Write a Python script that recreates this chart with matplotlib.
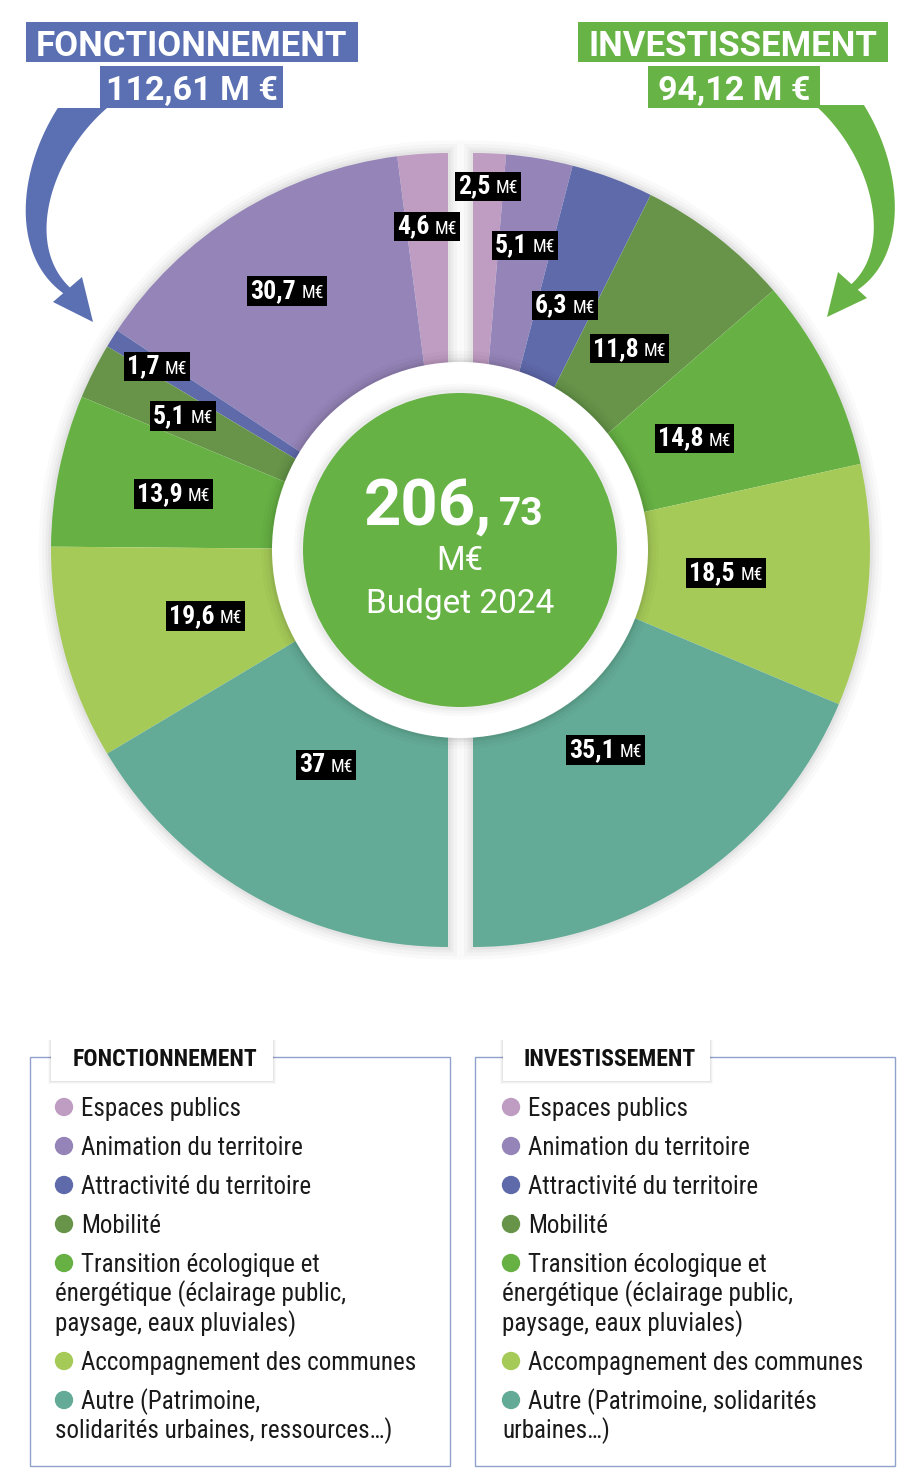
import numpy as np
import matplotlib
matplotlib.use("Agg")
import matplotlib.pyplot as plt
from matplotlib.patches import Rectangle, Circle, Polygon, Wedge
from matplotlib.offsetbox import TextArea, HPacker, AnnotationBbox

# ---------------- data ----------------
categories = ["Espaces publics", "Animation du territoire", "Attractivité du territoire",
              "Mobilité", "Transition écologique et énergétique",
              "Accompagnement des communes", "Autre"]
fonct_values = [4.6, 30.7, 1.7, 5.1, 13.9, 19.6, 37.0]
invest_values = [2.5, 5.1, 6.3, 11.8, 14.8, 18.5, 35.1]
fonct_total = "112,61 M €"
invest_total = "94,12 M €"
budget_int = "206,"
budget_dec = "73"
budget_year = "Budget 2024"
fonct_legend = [["Espaces publics"], ["Animation du territoire"], ["Attractivité du territoire"],
                ["Mobilité"], ["Transition écologique et", "énergétique (éclairage public,", "paysage, eaux pluviales)"],
                ["Accompagnement des communes"], ["Autre (Patrimoine,", "solidarités urbaines, ressources…)"]]
invest_legend = [["Espaces publics"], ["Animation du territoire"], ["Attractivité du territoire"],
                 ["Mobilité"], ["Transition écologique et", "énergétique (éclairage public,", "paysage, eaux pluviales)"],
                 ["Accompagnement des communes"], ["Autre (Patrimoine, solidarités", "urbaines…)"]]

# ---------------- style ----------------
colors = ["#bf9cc2", "#9484b8", "#5f6aab", "#679449", "#67b144", "#a6ca57", "#63ab96"]
BLUE = "#5a70b3"
GREEN = "#68b345"
CENTER_GREEN = "#66b245"
COND = "Roboto Condensed"
REG = "Roboto"

W, H = 900, 1481
fig = plt.figure(figsize=(W / 100, H / 100), dpi=100)
ax = fig.add_axes([0, 0, 1, 1])


def Y(y):
    return H - y


def fmt(v):
    s = ("%.1f" % v).replace(".", ",")
    return s[:-2] if s.endswith(",0") else s


CY = 550
R = 397
CXL, CXR = 448, 473

# shadows behind the halves
for lw, a in [(18, 0.02), (13, 0.025), (8, 0.03), (4, 0.035)]:
    ax.add_patch(Wedge((CXL, Y(CY)), R, 90, 270, facecolor="none",
                       edgecolor="black", alpha=a, lw=lw, zorder=0.5))
    ax.add_patch(Wedge((CXR, Y(CY)), R, -90, 90, facecolor="none",
                       edgecolor="black", alpha=a, lw=lw, zorder=0.5))

# pies: each half = 180 degrees
fl = [v / (2 * sum(fonct_values)) for v in fonct_values]
fr = [v / (2 * sum(invest_values)) for v in invest_values]
wl, _ = ax.pie(fl, colors=colors, startangle=90, counterclock=True, radius=R,
               center=(CXL, Y(CY)), normalize=False, wedgeprops=dict(linewidth=0))
wr, _ = ax.pie(fr, colors=colors, startangle=90, counterclock=False, radius=R,
               center=(CXR, Y(CY)), normalize=False, wedgeprops=dict(linewidth=0))
for w in list(wl) + list(wr):
    w.set_zorder(1)

# central ring with shadow
CXC = 460
for lw, a in [(16, 0.02), (11, 0.025), (6, 0.035), (3, 0.045)]:
    ax.add_patch(Circle((CXC, Y(CY)), 188, facecolor="none", edgecolor="black",
                        alpha=a, lw=lw, zorder=2))
ax.add_patch(Circle((CXC, Y(CY)), 188, facecolor="white", edgecolor="none", zorder=3))
for lw, a in [(12, 0.02), (8, 0.025), (4, 0.035)]:
    ax.add_patch(Circle((CXC, Y(CY)), 158, facecolor="none", edgecolor="black",
                        alpha=a, lw=lw, zorder=3.5))
ax.add_patch(Circle((CXC, Y(CY)), 157, facecolor=CENTER_GREEN, edgecolor="none", zorder=4))

ax.text(492, Y(525), budget_int, ha="right", va="baseline", fontsize=47,
        fontweight="bold", family=REG, color="white", zorder=6)
ax.text(499, Y(525), budget_dec, ha="left", va="baseline", fontsize=28,
        fontweight="bold", family=REG, color="white", zorder=6)
ax.text(460, Y(570), "M€", ha="center", va="baseline", fontsize=23.5,
        family=REG, color="white", zorder=6)
ax.text(460, Y(613), budget_year, ha="center", va="baseline", fontsize=24,
        family=REG, color="white", zorder=6)

# value labels
label_r_left = [324, 305, 344, 297, 280, 251, 247]
label_r_right = [364, 309, 261, 255, 248, 254, 240]


def add_label(cx, w, r, v):
    th = np.deg2rad((w.theta1 + w.theta2) / 2)
    x = cx + r * np.cos(th)
    y = Y(CY) + r * np.sin(th)
    t1 = TextArea(fmt(v), textprops=dict(color="white", fontsize=18.5,
                                         fontweight="bold", family=COND))
    t2 = TextArea("M€", textprops=dict(color="white", fontsize=13, family=COND))
    box = HPacker(children=[t1, t2], align="baseline", pad=0, sep=4)
    ab = AnnotationBbox(box, (x, y), xycoords="data", frameon=True, pad=0.2,
                        bboxprops=dict(facecolor="black", edgecolor="none",
                                       boxstyle="square,pad=0.2"), zorder=7)
    ax.add_artist(ab)


for w, r, v in zip(wl, label_r_left, fonct_values):
    add_label(CXL, w, r, v)
for w, r, v in zip(wr, label_r_right, invest_values):
    add_label(CXR, w, r, v)


# title boxes
def title_box(x0, x1, y0, y1, color, txt, size):
    ax.add_patch(Rectangle((x0, Y(y1)), x1 - x0, y1 - y0, facecolor=color,
                           edgecolor="none", zorder=8))
    ax.text((x0 + x1) / 2, Y((y0 + y1) / 2) - 1, txt, ha="center", va="center_baseline",
            fontsize=size, fontweight="bold", family=REG, color="white", zorder=9)


title_box(26, 358, 22, 62, BLUE, "FONCTIONNEMENT", 25)
title_box(100, 283, 66, 108, BLUE, fonct_total, 24.5)
title_box(578, 888, 22, 62, GREEN, "INVESTISSEMENT", 25)
title_box(648, 820, 66, 108, GREEN, invest_total, 24.5)


# curved arrows (tapered, clipped flat under the title box)
def curved_arrow(P, w0, w1, head, color, ytop):
    P = np.array([[p[0], Y(p[1])] for p in P], float)
    t = np.linspace(0, 1, 100)[:, None]
    B = (1 - t) ** 3 * P[0] + 3 * (1 - t) ** 2 * t * P[1] + 3 * (1 - t) * t ** 2 * P[2] + t ** 3 * P[3]
    D = 3 * (1 - t) ** 2 * (P[1] - P[0]) + 6 * (1 - t) * t * (P[2] - P[1]) + 3 * t ** 2 * (P[3] - P[2])
    D = D / np.linalg.norm(D, axis=1)[:, None]
    N = np.column_stack([-D[:, 1], D[:, 0]])
    wd = (w0 + (w1 - w0) * t) / 2
    poly = np.vstack([B + N * wd, (B - N * wd)[::-1]])
    clip = Rectangle((0, Y(400)), W, 400 - ytop, transform=ax.transData)
    p = Polygon(poly, closed=True, facecolor=color, edgecolor="none", zorder=7.5)
    ax.add_patch(p)
    p.set_clip_path(clip)
    hp = np.array([[q[0], Y(q[1])] for q in head])
    ax.add_patch(Polygon(hp, closed=True, facecolor=color, edgecolor="none", zorder=7.5))


curved_arrow([(95, 92), (35, 150), (12, 250), (70, 293)], 40, 8,
             [(93, 322), (53, 302), (82, 277)], BLUE, 108)
curved_arrow([(828, 90), (888, 150), (905, 250), (853, 288)], 40, 8,
             [(827, 317), (838, 272), (867, 298)], GREEN, 105)

# legends
BORDER = "#8fa2cb"


def legend_panel(x0, x1, tx0, tx1, title, items, mx):
    y0, y1 = 1057, 1466
    ax.add_patch(Rectangle((x0, Y(y1)), x1 - x0, y1 - y0, facecolor="none",
                           edgecolor=BORDER, lw=1.0, zorder=1))
    for off, a in [(3, 0.025), (2, 0.035), (1, 0.045)]:
        ax.add_patch(Rectangle((tx0 - off, Y(1081 + off)), tx1 - tx0 + 2 * off, 41 + off,
                               facecolor="black", alpha=a, edgecolor="none", zorder=2))
    ax.add_patch(Rectangle((tx0, Y(1081)), tx1 - tx0, 41, facecolor="white",
                           edgecolor="none", zorder=3))
    ax.text((tx0 + tx1) / 2 + 3, Y(1066), title, ha="center", va="baseline", fontsize=17,
            fontweight="bold", family=COND, color="#111111", zorder=4)
    y = 1107
    ys = []
    for lines in items:
        ys.append(y)
        ax.text(mx + 17, Y(y + 9), lines[0], ha="left", va="baseline", fontsize=18,
                family=COND, color="#1a1a1a", zorder=4)
        for k, ln in enumerate(lines[1:], start=1):
            ax.text(mx - 9, Y(y + 9 + 29.5 * k), ln, ha="left", va="baseline", fontsize=18,
                    family=COND, color="#1a1a1a", zorder=4)
        y += 39 + 29.5 * (len(lines) - 1)
    ax.scatter([mx] * len(ys), [Y(v) for v in ys], s=175, c=colors, edgecolors="none", zorder=4)


legend_panel(30, 450, 51, 273, "FONCTIONNEMENT", fonct_legend, 64)
legend_panel(475, 895, 503, 710, "INVESTISSEMENT", invest_legend, 511)

ax.set_xlim(0, W)
ax.set_ylim(0, H)
ax.set_aspect("equal")
ax.axis("off")
fig.savefig("out.png", dpi=100)
